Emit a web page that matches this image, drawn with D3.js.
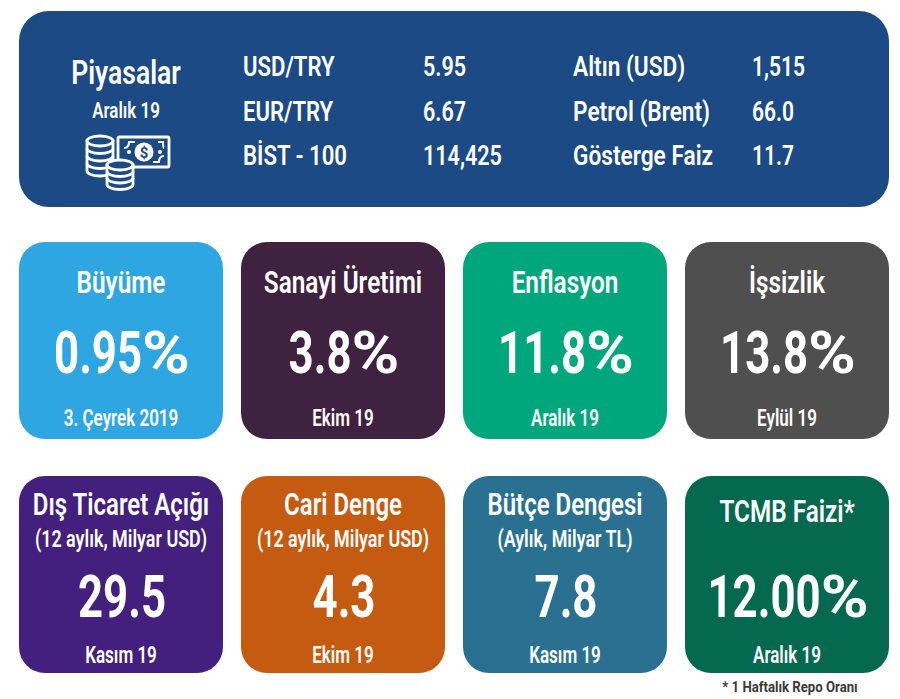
<!DOCTYPE html>
<html>
<head>
  <meta charset="utf-8">
  <title>Piyasalar</title>
  <style>
    html, body { margin: 0; padding: 0; background: #fff; }
    svg { display: block; }
    text { font-family: Roboto, sans-serif; fill: #fff; text-anchor: middle; }
  </style>
  <script src="https://d3js.org/d3.v7.min.js"></script>
</head>
<body>
  <svg id="chart" width="900" height="699"></svg>
  <script>
    // Market panel
    const marketTitle = "Piyasalar";
    const marketDate = "Aralık 19";
    const leftLabels = ["USD/TRY", "EUR/TRY", "BİST - 100"];
    const leftValues = ["5.95", "6.67", "114,425"];
    const rightLabels = ["Altın (USD)", "Petrol (Brent)", "Gösterge Faiz"];
    const rightValues = ["1,515", "66.0", "11.7"];

    // Indicator cards
    const cardTitles = ["Büyüme", "Sanayi Üretimi", "Enflasyon", "İşsizlik",
      "Dış Ticaret Açığı", "Cari Denge", "Bütçe Dengesi", "TCMB Faizi*"];
    const cardSubtitles = ["", "", "", "",
      "(12 aylık, Milyar USD)", "(12 aylık, Milyar USD)", "(Aylık, Milyar TL)", ""];
    const cardValues = ["0.95%", "3.8%", "11.8%", "13.8%", "29.5", "4.3", "7.8", "12.00%"];
    const cardDates = ["3. Çeyrek 2019", "Ekim 19", "Aralık 19", "Eylül 19",
      "Kasım 19", "Ekim 19", "Kasım 19", "Aralık 19"];
    const cardColors = ["#2ea6e2", "#3f2140", "#00a77d", "#4f4f4f",
      "#43207d", "#c55a11", "#2a7191", "#04694e"];
    const footnote = "* 1 Haftalık Repo Oranı";

    const svg = d3.select("#chart");

    // the original face is condensed, so squeeze a normal one horizontally
    function label(g, str, x, y, size, weight, squeeze, anchor) {
      return g.append("text")
        .attr("transform", `translate(${x},${y}) scale(${squeeze},1)`)
        .attr("font-size", size)
        .attr("font-weight", weight)
        .style("text-anchor", anchor || "middle")
        .text(str);
    }

    // big figure: digits narrow, percent sign wide, centred together
    function bigValue(g, str, cx, y) {
      const size = 60, digitSqueeze = 0.73, pctSqueeze = 1.08;
      const hasPct = str.endsWith("%");
      const digits = hasPct ? str.slice(0, -1) : str;
      const num = label(g, digits, 0, y, size, 700, digitSqueeze, "start");
      const numW = num.node().getComputedTextLength() * digitSqueeze;
      if (!hasPct) {
        num.attr("transform", `translate(${cx - numW / 2},${y}) scale(${digitSqueeze},1)`);
        return;
      }
      const pct = label(g, "%", 0, y, size, 700, pctSqueeze, "start");
      const pctW = pct.node().getComputedTextLength() * pctSqueeze;
      const left = cx - (numW + pctW) / 2;
      num.attr("transform", `translate(${left},${y}) scale(${digitSqueeze},1)`);
      pct.attr("transform", `translate(${left + numW},${y}) scale(${pctSqueeze},1)`);
    }

    // top panel
    const panel = svg.append("g");
    const panelBlue = "#1b4a84";
    panel.append("rect")
      .attr("x", 19).attr("y", 11)
      .attr("width", 870).attr("height", 196)
      .attr("rx", 30)
      .attr("fill", panelBlue);

    label(panel, marketTitle, 126, 84, 34, 600, 0.78);
    label(panel, marketDate, 126, 118, 22, 600, 0.77);

    const rowY = d3.scalePoint().domain([0, 1, 2]).range([76, 165]);
    const columns = [
      [leftLabels, 243, 0.79], [leftValues, 423, 0.77],
      [rightLabels, 573, 0.81], [rightValues, 752, 0.75]
    ];
    columns.forEach(([texts, x, squeeze]) => {
      texts.forEach((s, i) => label(panel, s, x, rowY(i), 28, 600, squeeze, "start"));
    });

    // coins and banknote icon
    const icon = panel.append("g")
      .attr("fill", "none")
      .attr("stroke", "#fff")
      .attr("stroke-width", 2.8);

    function coins(cx, top, layers, step) {
      const rx = 13, ry = 5;
      icon.append("path")
        .attr("fill", panelBlue)
        .attr("d", `M${cx - rx},${top} v${layers * step} a${rx},${ry} 0 0 0 ${2 * rx},0 v${-layers * step} z`);
      icon.append("ellipse")
        .attr("cx", cx).attr("cy", top)
        .attr("rx", rx).attr("ry", ry)
        .attr("fill", panelBlue);
      d3.range(1, layers).forEach(k => {
        icon.append("path")
          .attr("d", `M${cx - rx},${top + k * step} a${rx},${ry} 0 0 0 ${2 * rx},0`);
      });
    }

    icon.append("rect")
      .attr("x", 118).attr("y", 137)
      .attr("width", 51).attr("height", 30)
      .attr("rx", 1.5);
    icon.append("path")
      .attr("stroke-width", 2)
      .attr("d", "M124,148 q5,0 5,-6 h6 M158,142 h5 q0,6 1,6 M164,156 q-5,0 -5,6 h-6");
    icon.append("circle").attr("cx", 144).attr("cy", 152).attr("r", 9.5).attr("fill", "#fff").attr("stroke", "none");
    icon.append("circle").attr("cx", 129).attr("cy", 152).attr("r", 2).attr("fill", "#fff").attr("stroke", "none");
    icon.append("circle").attr("cx", 160).attr("cy", 152).attr("r", 2).attr("fill", "#fff").attr("stroke", "none");
    panel.append("text")
      .attr("x", 144).attr("y", 157.5)
      .attr("font-size", 15).attr("font-weight", 700)
      .style("fill", panelBlue)
      .text("$");

    coins(100, 141, 4, 7.5);
    coins(120, 165, 3, 6.5);

    // cards, 4 across and 2 down
    const cardX = d3.scaleBand().domain(d3.range(4)).range([19, 889]).paddingInner(18 / 222);
    const cardY = d3.scaleBand().domain(d3.range(2)).range([242, 673]).paddingInner(37 / 234);

    cardTitles.forEach((title, i) => {
      const col = i % 4, row = Math.floor(i / 4);
      const x = cardX(col), y = cardY(row);
      const w = cardX.bandwidth(), h = cardY.bandwidth();
      const cx = x + w / 2;
      const g = svg.append("g");

      g.append("rect")
        .attr("x", x).attr("y", y)
        .attr("width", w).attr("height", h)
        .attr("rx", 26)
        .attr("fill", cardColors[i]);

      const hasSub = cardSubtitles[i] !== "";
      const titleY = hasSub ? 39 : (row === 0 ? 51 : 46);
      label(g, title, cx, y + titleY, 32, 600, hasSub ? 0.75 : 0.76);
      if (hasSub) label(g, cardSubtitles[i], cx, y + 71, 23, 600, 0.78);
      bigValue(g, cardValues[i], cx + 1, y + (row === 0 ? 131 : 141));
      label(g, cardDates[i], cx, y + (row === 0 ? 184 : 187), 23, 600, 0.74);
    });

    label(svg, footnote, 790, 692, 15.5, 700, 0.85).style("fill", "#3a3a3a");
  </script>
</body>
</html>
